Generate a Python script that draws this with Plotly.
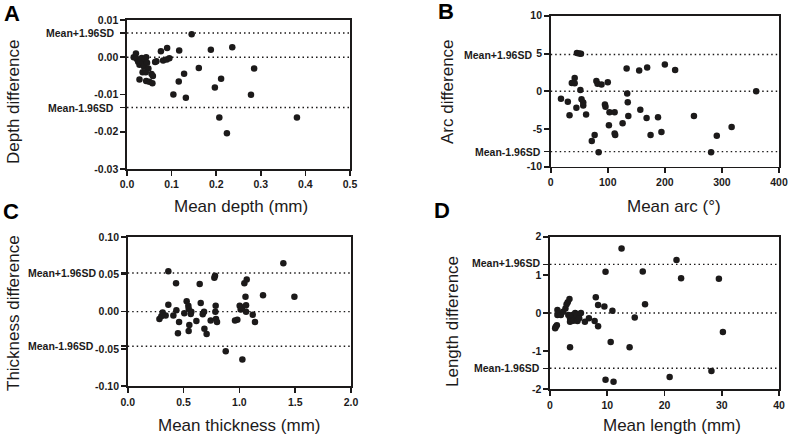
import plotly.graph_objects as go

# ---------------- data ----------------
depth_mean = [0.015,0.020,0.022,0.025,0.028,0.030,0.033,0.035,0.038,0.040,0.043,0.045,0.048,0.035,0.042,
              0.028,0.043,0.050,0.057,0.058,0.055,0.063,0.066,0.081,0.089,0.095,0.076,0.090,0.117,0.145,
              0.188,0.236,0.161,0.285,0.128,0.116,0.211,0.197,0.104,0.132,0.278,0.207,0.381,0.224]
depth_diff = [0.0000,0.0010,-0.0005,-0.0012,-0.0020,-0.0010,-0.0002,-0.0015,-0.0025,-0.0005,0.0000,-0.0015,-0.0030,-0.0040,-0.0040,
              -0.0060,-0.0064,-0.0066,-0.0070,-0.0050,-0.0045,-0.0013,-0.0011,-0.0009,-0.0006,-0.0003,0.0016,0.0025,0.0018,0.0062,
              0.0020,0.0027,-0.0029,-0.0030,-0.0044,-0.0065,-0.0058,-0.0081,-0.0100,-0.0109,-0.0101,-0.0162,-0.0162,-0.0204]
depth_limits = [0.0065, 0.0, -0.0135]

arc_mean = [18,30,33,37,42,42,46,50,53,45,52,54,57,57,62,72,77,80,82,84,89,95,96,100,102,103,112,112,113,126,
            133,134,135,136,155,157,168,169,175,188,194,200,218,251,281,291,317,360]
arc_diff = [-1.0,-1.4,-3.2,1.1,1.75,1.05,5.05,5.0,4.95,-2.2,0.15,-1.05,-1.5,-1.9,-3.1,-6.6,-5.8,1.35,1.0,-8.1,
            0.9,-1.75,-2.05,1.2,-4.5,-2.8,-2.8,-5.6,-5.8,-4.25,3.0,-0.3,-1.45,-3.3,2.75,-2.45,-3.55,3.15,-5.8,-3.45,
            -5.4,3.55,2.8,-3.3,-8.1,-5.9,-4.75,0.0]
arc_limits = [4.86, 0.0, -8.0]

thick_mean = [0.284,0.301,0.313,0.340,0.364,0.364,0.409,0.433,0.436,0.450,0.460,0.507,0.528,0.543,0.546,0.546,0.552,
              0.570,0.565,0.615,0.645,0.654,0.672,0.684,0.687,0.707,0.743,0.776,0.782,0.788,0.785,0.791,0.800,0.878,
              0.961,0.982,1.003,1.012,1.024,1.027,1.045,1.066,1.055,1.060,1.060,1.120,1.140,1.212,1.394,1.493]
thick_diff = [-0.010,-0.006,-0.001,-0.005,0.0094,0.054,-0.005,0.038,0.002,-0.029,-0.014,-0.002,0.014,0.008,0.004,-0.026,-0.018,
              0.000,-0.003,-0.0125,0.037,0.0116,-0.0036,0.000,-0.023,-0.030,-0.012,0.0455,0.048,0.008,0.000,-0.010,-0.014,-0.053,
              -0.012,-0.011,0.008,0.003,0.0054,-0.064,0.038,0.043,0.020,0.0085,0.000,-0.004,-0.014,0.022,0.065,0.020]
thick_limits = [0.0518, 0.0, -0.0464]

length_mean = [0.9,1.0,1.2,1.3,1.3,1.6,1.9,2.3,2.7,2.9,3.1,3.4,3.2,3.5,3.5,3.9,4.1,4.4,4.7,4.8,4.7,5.4,5.1,6.1,6.8,7.8,8.4,
               8.0,8.4,9.5,10.9,9.7,12.5,16.2,16.6,14.8,10.6,13.9,3.5,22.1,22.9,29.5,30.2,28.2,20.9,9.7,11.1]
length_diff = [-0.40,-0.36,-0.32,-0.05,0.08,-0.01,-0.05,0.03,0.12,0.23,0.28,0.37,-0.05,-0.14,-0.23,-0.05,-0.20,0.00,-0.12,-0.21,
               -0.05,0.00,-0.14,-0.23,-0.14,-0.21,-0.35,0.41,0.21,0.17,0.06,1.08,1.69,1.09,0.23,-0.12,-0.76,-0.90,-0.90,1.39,
               0.91,0.90,-0.50,-1.52,-1.68,-1.75,-1.80]
length_limits = [1.275, 0.0, -1.45]

# tick labels
depth_xticks = [0.0, 0.1, 0.2, 0.3, 0.4, 0.5]
depth_xtext = ["0.0", "0.1", "0.2", "0.3", "0.4", "0.5"]
depth_yticks = [0.01, 0.0, -0.01, -0.02, -0.03]
depth_ytext = ["0.01", "0.00", "-0.01", "-0.02", "-0.03"]
arc_xticks = [0, 100, 200, 300, 400]
arc_xtext = ["0", "100", "200", "300", "400"]
arc_yticks = [10, 5, 0, -5, -10]
arc_ytext = ["10", "5", "0", "-5", "-10"]
thick_xticks = [0.0, 0.5, 1.0, 1.5, 2.0]
thick_xtext = ["0.0", "0.5", "1.0", "1.5", "2.0"]
thick_yticks = [0.10, 0.05, 0.0, -0.05, -0.10]
thick_ytext = ["0.10", "0.05", "0.00", "-0.05", "-0.10"]
length_xticks = [0, 10, 20, 30, 40]
length_xtext = ["0", "10", "20", "30", "40"]
length_yticks = [2, 1, 0, -1, -2]
length_ytext = ["2", "1", "0", "-1", "-2"]

upper_label = "Mean+1.96SD"
lower_label = "Mean-1.96SD"

# ---------------- layout helpers ----------------
W, H = 789, 437
FONT = "Arial, Liberation Sans, sans-serif"
INK = "#1c1a1a"

def px_x(p):
    return p / W

def px_y(p):
    return 1 - p / H

panels = [
    dict(name="1", x=depth_mean, y=depth_diff, lim=depth_limits,
         xdom=[127, 350], ydom=[20, 169], xr=[0, 0.5], yr=[-0.03, 0.01],
         xt=depth_xticks, xtt=depth_xtext, yt=depth_yticks, ytt=depth_ytext,
         xtitle="Mean depth (mm)", ytitle="Depth difference",
         xtpos=(241, 207), ytpos=(13, 102), letter="A", lpos=(12, 13),
         ushift=-11, lshift=-11, uy=0),
    dict(name="2", x=arc_mean, y=arc_diff, lim=arc_limits,
         xdom=[550.7, 779], ydom=[15.7, 166.7], xr=[0, 400], yr=[-10, 10],
         xt=arc_xticks, xtt=arc_xtext, yt=arc_yticks, ytt=arc_ytext,
         xtitle="Mean arc (°)", ytitle="Arc difference",
         xtpos=(674, 207), ytpos=(447, 91), letter="B", lpos=(446, 11),
         ushift=-17, lshift=-8, uy=0),
    dict(name="3", x=thick_mean, y=thick_diff, lim=thick_limits,
         xdom=[127.7, 351], ydom=[237, 386.3], xr=[0, 2.0], yr=[-0.10, 0.10],
         xt=thick_xticks, xtt=thick_xtext, yt=thick_yticks, ytt=thick_ytext,
         xtitle="Mean thickness (mm)", ytitle="Thickness difference",
         xtpos=(239, 425), ytpos=(13, 313), letter="C", lpos=(11, 211),
         ushift=-30, lshift=-32, uy=0),
    dict(name="4", x=length_mean, y=length_diff, lim=length_limits,
         xdom=[550, 779], ydom=[236.7, 389.3], xr=[0, 40], yr=[-2, 2],
         xt=length_xticks, xtt=length_xtext, yt=length_yticks, ytt=length_ytext,
         xtitle="Mean length (mm)", ytitle="Length difference",
         xtpos=(672, 425), ytpos=(452, 322), letter="D", lpos=(442, 210),
         ushift=-8, lshift=-8, uy=1.5),
]

fig = go.Figure()
shapes = []
annotations = []
layout_axes = {}

for p in panels:
    n = p["name"]
    xa = "x" if n == "1" else "x" + n
    ya = "y" if n == "1" else "y" + n
    fig.add_trace(go.Scatter(
        x=p["x"], y=p["y"], mode="markers", xaxis=xa, yaxis=ya,
        marker=dict(size=6.5, color=INK, line=dict(width=0)),
        showlegend=False, hoverinfo="skip"))

    xkey = "xaxis" if n == "1" else "xaxis" + n
    ykey = "yaxis" if n == "1" else "yaxis" + n
    axis_common = dict(showgrid=False, zeroline=False, showline=True, linecolor=INK,
                       linewidth=1.6, mirror=True, ticks="outside", ticklen=5,
                       tickwidth=1.6, tickcolor=INK, automargin=False,
                       tickfont=dict(family=FONT, size=10.5, color=INK, weight="bold"))
    layout_axes[xkey] = dict(axis_common, domain=[px_x(p["xdom"][0]), px_x(p["xdom"][1])],
                             range=p["xr"], tickmode="array", tickvals=p["xt"], ticktext=p["xtt"],
                             anchor=ya, fixedrange=True)
    yvals = p["yt"] + [p["lim"][0], p["lim"][2]]
    ytext = p["ytt"] + ["", ""]
    layout_axes[ykey] = dict(axis_common, domain=[px_y(p["ydom"][1]), px_y(p["ydom"][0])],
                             range=p["yr"], tickmode="array", tickvals=yvals, ticktext=ytext,
                             anchor=xa, fixedrange=True)

    # dotted limit lines
    for v in p["lim"]:
        shapes.append(dict(type="line", xref=xa + " domain", yref=ya, x0=0, x1=1, y0=v, y1=v,
                           line=dict(color=INK, width=1.4, dash="1.5px,3px"), layer="below"))

    # mean labels
    for v, txt, sh, ys in [(p["lim"][0], upper_label, p["ushift"], p["uy"]),
                           (p["lim"][2], lower_label, p["lshift"], 0)]:
        annotations.append(dict(xref=xa + " domain", yref=ya, x=0, y=v, text=txt, showarrow=False,
                                xanchor="right", yanchor="middle", xshift=sh, yshift=ys,
                                font=dict(family=FONT, size=10.5, color=INK, weight="bold")))

    # axis titles
    annotations.append(dict(xref="paper", yref="paper", x=px_x(p["xtpos"][0]), y=px_y(p["xtpos"][1]),
                            text=p["xtitle"], showarrow=False, xanchor="center", yanchor="middle",
                            font=dict(family=FONT, size=17, color=INK)))
    annotations.append(dict(xref="paper", yref="paper", x=px_x(p["ytpos"][0]), y=px_y(p["ytpos"][1]),
                            text=p["ytitle"], showarrow=False, textangle=-90,
                            xanchor="center", yanchor="middle",
                            font=dict(family=FONT, size=17, color=INK)))
    # panel letter
    annotations.append(dict(xref="paper", yref="paper", x=px_x(p["lpos"][0]), y=px_y(p["lpos"][1]),
                            text=p["letter"], showarrow=False, xanchor="center", yanchor="middle",
                            font=dict(family=FONT, size=22, color="#000000", weight="bold")))

fig.update_layout(
    width=W, height=H, margin=dict(l=0, r=0, t=0, b=0, pad=0, autoexpand=False),
    paper_bgcolor="white", plot_bgcolor="white",
    shapes=shapes, annotations=annotations, showlegend=False,
    **layout_axes)

fig.write_html("out.html", config={"displayModeBar": False, "staticPlot": True},
               post_script="document.body.style.margin='0';document.body.style.padding='0';"
                           "document.body.style.overflow='hidden';")
